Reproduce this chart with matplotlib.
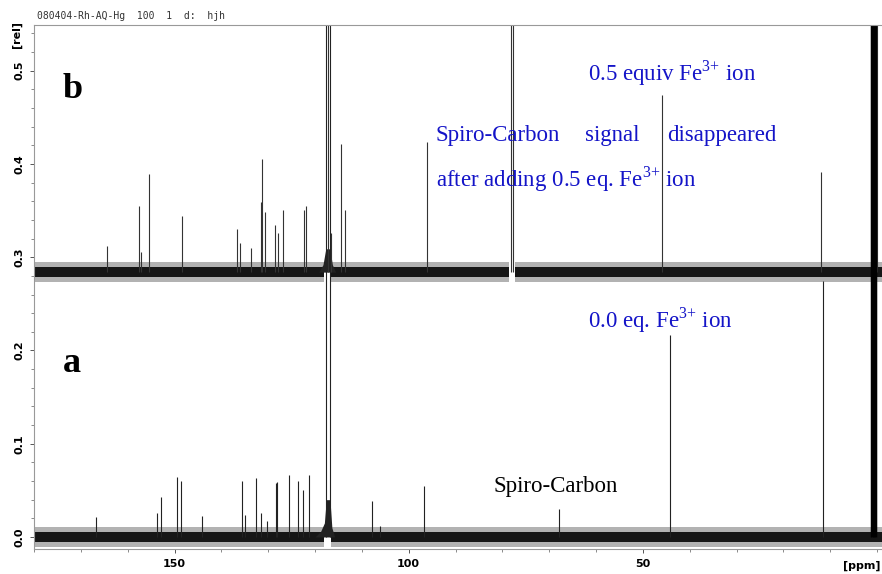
import numpy as np
import matplotlib
matplotlib.use('Agg')
import matplotlib.pyplot as plt
from matplotlib.ticker import MultipleLocator, FixedLocator

plt.rcParams['mathtext.fontset'] = 'custom'
plt.rcParams['mathtext.rm'] = 'Liberation Serif'

# Trace a: 0.0 eq. Fe3+ (baseline 0.0)
base_a = 0.0
peaks_a_ppm = [166.8, 153.7, 152.9, 149.5, 148.7, 144.2, 135.6, 135.0, 132.6, 131.6,
               130.3, 128.4, 128.1, 125.5, 123.7, 122.6, 121.3, 117.7, 116.8,
               107.8, 106.1, 96.7, 67.8, 44.1, 11.6, 1.15, 0.2]
peaks_a_h = [0.021, 0.026, 0.043, 0.064, 0.060, 0.022, 0.060, 0.024, 0.063, 0.026,
             0.017, 0.058, 0.059, 0.066, 0.060, 0.050, 0.066, 0.60, 0.60,
             0.039, 0.012, 0.055, 0.030, 0.217, 0.275, 0.60, 0.60]

# Trace b: 0.5 equiv Fe3+ (baseline 0.284)
base_b = 0.284
peaks_b_ppm = [164.5, 157.6, 157.2, 155.4, 148.4, 136.7, 136.0, 133.7, 131.4, 131.5,
               130.7, 128.6, 127.9, 126.9, 122.4, 121.9, 117.3, 116.5, 114.5, 113.7,
               96.0, 78.1, 77.8, 45.9, 11.9, 1.3, 0.9, 0.5, 0.1]
peaks_b_h = [0.028, 0.071, 0.022, 0.105, 0.060, 0.046, 0.031, 0.026, 0.121, 0.075,
             0.064, 0.051, 0.042, 0.067, 0.067, 0.071, 0.40, 0.042, 0.137, 0.067,
             0.140, 0.40, 0.40, 0.19, 0.107, 0.40, 0.40, 0.40, 0.40]

# noise envelope half widths
noise_core = 0.0055
noise_outer = 0.011

# broad bases under the solvent lines
shoulder_a_ppm = [120.0, 118.8, 118.0, 117.6, 116.8, 116.4, 115.8]
shoulder_a_h = [0.0, 0.006, 0.015, 0.04, 0.04, 0.010, 0.0]
shoulder_b_ppm = [119.2, 118.3, 117.7, 116.8, 116.3, 115.6]
shoulder_b_h = [0.0, 0.008, 0.025, 0.025, 0.008, 0.0]

xlim = (180.0, -0.85)
ylim = (-0.0129, 0.549)

fig = plt.figure(figsize=(8.82, 5.74), dpi=100)
ax = fig.add_axes([34/882, 25/574, 847/882, 524/574])


def band(ax, base, segments):
    for lo, hi in segments:
        xs = np.array([hi, lo])
        ax.fill_between(xs, base - noise_outer, base + noise_outer, color='black', alpha=0.3, lw=0)
        ax.fill_between(xs, base - noise_core, base + noise_core, color='black', alpha=0.88, lw=0)


# noise bands
band(ax, base_a, [(118.0, 181), (-2, 116.6)])
band(ax, base_b, [(118.0, 181), (78.5, 116.6), (-2, 77.4)])

# shoulders
ax.fill_between(shoulder_a_ppm, base_a, base_a + np.array(shoulder_a_h), color='#222222', lw=0)
ax.fill_between(shoulder_b_ppm, base_b, base_b + np.array(shoulder_b_h), color='#222222', lw=0)

# peaks
ax.vlines(peaks_a_ppm, base_a, base_a + np.array(peaks_a_h), color='#222222', lw=0.8)
ax.vlines(peaks_b_ppm, base_b, base_b + np.array(peaks_b_h), color='#333333', lw=0.8)
# thick solvent at right edge
ax.vlines([1.0, 0.5], base_a, 0.6, color='black', lw=2.5)

ax.set_xlim(*xlim)
ax.set_ylim(*ylim)

for side in ['left', 'bottom', 'top']:
    ax.spines[side].set_color('#999999')
    ax.spines[side].set_linewidth(0.8)
ax.spines['right'].set_visible(False)

ax.xaxis.set_major_locator(FixedLocator([150, 100, 50]))
ax.xaxis.set_minor_locator(MultipleLocator(10))
ax.yaxis.set_major_locator(MultipleLocator(0.1))
ax.yaxis.set_minor_locator(MultipleLocator(0.02))
ax.tick_params(axis='both', which='major', length=3, width=0.7, color='#555555', labelsize=8)
ax.tick_params(axis='both', which='minor', length=2.5, width=0.6, color='#777777')
ax.set_xticklabels(['150', '100', '50'], fontweight='bold')
ax.set_yticks([0.0, 0.1, 0.2, 0.3, 0.4, 0.5])
ax.set_yticklabels(['0.0', '0.1', '0.2', '0.3', '0.4', '0.5'], fontweight='bold',
                   rotation=90, va='center')
ax.tick_params(axis='x', pad=4)
ax.tick_params(axis='y', pad=4)

fig.text(862/882, 1 - 566/574, '[ppm]', fontsize=8, fontweight='bold', ha='center', va='center')
fig.text(17/882, 1 - 34/574, '[rel]', fontsize=8, fontweight='bold', rotation=90,
         ha='center', va='center')
fig.text(37/882, 1 - 16/574, '080404-Rh-AQ-Hg  100  1  d:  hjh', fontsize=7,
         family='DejaVu Sans Mono', ha='left', va='center', color='#333333')

serif = 'Liberation Serif'
blue = '#1414c8'
fs = 16.5
ax.text(173.8, 0.48, 'b', fontsize=26, fontweight='bold', family=serif, ha='left', va='center')
ax.text(173.8, 0.186, 'a', fontsize=26, fontweight='bold', family=serif, ha='left', va='center')
ax.text(61.75, 0.497, r'0.5 equiv Fe$^{3{+}}$ ion', fontsize=fs, family=serif, color=blue,
        ha='left', va='center')
ax.text(94.2, 0.430, 'Spiro-Carbon', fontsize=fs, family=serif, color=blue, ha='left', va='center')
ax.text(62.4, 0.430, 'signal', fontsize=fs, family=serif, color=blue, ha='left', va='center')
ax.text(44.9, 0.430, 'disappeared', fontsize=fs, family=serif, color=blue, ha='left', va='center')
ax.text(94.2, 0.384, r'after adding 0.5 eq. Fe$^{3{+}}$ ion', fontsize=fs, family=serif,
        color=blue, ha='left', va='center')
ax.text(61.75, 0.232, r'0.0 eq. Fe$^{3{+}}$ ion', fontsize=fs, family=serif, color=blue,
        ha='left', va='center')
ax.text(81.8, 0.054, 'Spiro-Carbon', fontsize=fs, family=serif, color='black',
        ha='left', va='center')

fig.savefig('out.png', dpi=100)
